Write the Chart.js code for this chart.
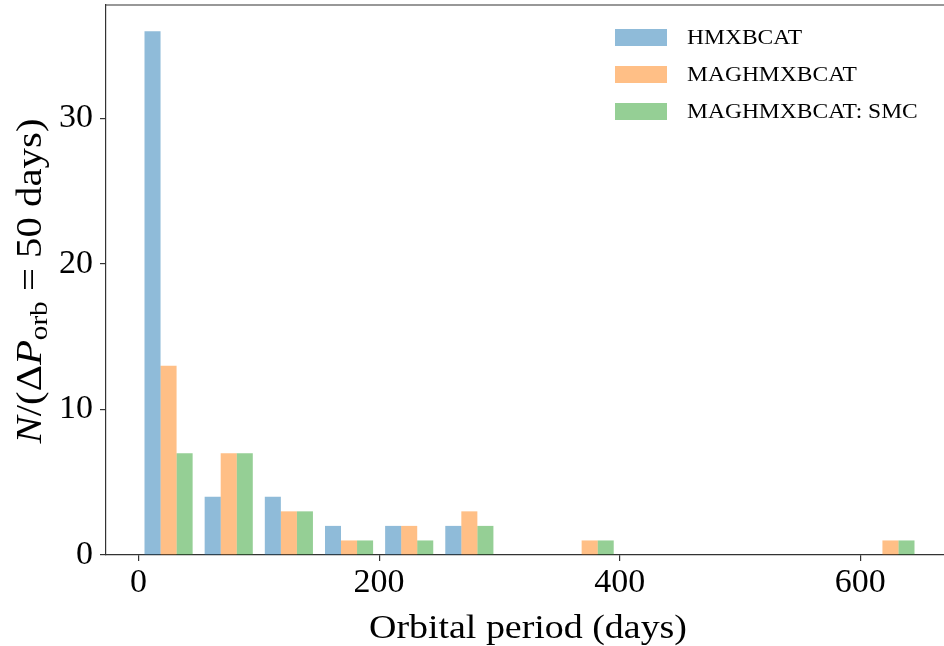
<!DOCTYPE html>
<html>
<head>
<meta charset="utf-8">
<script src="https://cdn.jsdelivr.net/npm/chart.js@4/dist/chart.umd.min.js"></script>
<style>
html, body { margin: 0; padding: 0; background: #fff; overflow: hidden; }
canvas { display: block; }
</style>
</head>
<body>
<canvas id="periodHist" width="962" height="646"></canvas>
<script>
// 50-day bins, centres of each bin
const binCentres = [25, 75, 125, 175, 225, 275, 325, 375, 425, 475, 525, 575, 625];
const hmxbcat = [36, 4, 4, 2, 2, 2, 0, 0, 0, 0, 0, 0, 0];
const maghmxbcat = [13, 7, 3, 1, 2, 3, 0, 1, 0, 0, 0, 0, 1];
const maghmxbcatSmc = [7, 7, 3, 1, 1, 2, 0, 1, 0, 0, 0, 0, 1];
const seriesNames = ['HMXBCAT', 'MAGHMXBCAT', 'MAGHMXBCAT: SMC'];
const xTicks = [0, 200, 400, 600];
const yTicks = [0, 10, 20, 30];

const colours = ['rgba(31, 119, 180, 0.5)', 'rgba(255, 127, 14, 0.5)', 'rgba(44, 160, 44, 0.5)'];
const serif = '"Liberation Serif", "Times New Roman", serif';
const axisColour = '#333';

function toPoints(values) {
    return values.map((v, i) => ({ x: binCentres[i], y: v }));
}

const allSeries = [hmxbcat, maghmxbcat, maghmxbcatSmc];
const datasets = allSeries.map((values, i) => ({
    label: seriesNames[i],
    data: toPoints(values),
    backgroundColor: colours[i],
    borderWidth: 0,
    categoryPercentage: 0.8,
    barPercentage: 1.0
}));

// draws a list of text runs stretched sideways to a given length, centred on 0
function drawRuns(ctx, parts, length) {
    let total = 0;
    parts.forEach(p => { ctx.font = p.font; p.w = ctx.measureText(p.t).width; total += p.w; });
    const k = length / total;
    ctx.scale(k, 1);
    let x = -total / 2;
    parts.forEach(p => {
        ctx.font = p.font;
        ctx.fillText(p.t, x, p.dy || 0);
        x += p.w;
    });
}

// frame on top, axis titles and the legend box
const decorations = {
    id: 'decorations',
    afterDraw(chart) {
        const ctx = chart.ctx;
        const area = chart.chartArea;
        ctx.save();

        // top spine
        ctx.strokeStyle = axisColour;
        ctx.lineWidth = 1.2;
        ctx.beginPath();
        ctx.moveTo(area.left, area.top);
        ctx.lineTo(area.right, area.top);
        ctx.stroke();

        ctx.fillStyle = '#000';
        ctx.textAlign = 'left';
        ctx.textBaseline = 'alphabetic';

        // x title
        ctx.save();
        ctx.translate(528, 638);
        drawRuns(ctx, [{ t: 'Orbital period (days)', font: '33px ' + serif }], 318);
        ctx.restore();

        // y title with italic symbols and subscript
        const size = 35;
        const parts = [
            { t: 'N', font: 'italic ' + size + 'px ' + serif },
            { t: '/(\u0394', font: size + 'px ' + serif },
            { t: 'P', font: 'italic ' + size + 'px ' + serif },
            { t: 'orb', font: Math.round(size * 0.7) + 'px ' + serif, dy: size * 0.17 },
            { t: ' = 50 days)', font: size + 'px ' + serif }
        ];
        ctx.save();
        ctx.translate(41, 281);
        ctx.rotate(-Math.PI / 2);
        drawRuns(ctx, parts, 325);
        ctx.restore();
        ctx.restore();

        // legend, all entries share one sideways stretch
        ctx.save();
        ctx.textBaseline = 'middle';
        ctx.textAlign = 'left';
        ctx.font = '22px ' + serif;
        const k = 115 / ctx.measureText(seriesNames[0]).width;
        seriesNames.forEach((name, i) => {
            const cy = 37.5 + i * 37;
            ctx.fillStyle = colours[i];
            ctx.fillRect(615, cy - 8.5, 52, 17);
            ctx.fillStyle = '#000';
            ctx.save();
            ctx.translate(687, cy + 1);
            ctx.scale(k, 1);
            ctx.fillText(name, 0, 0);
            ctx.restore();
        });
        ctx.restore();
    }
};

const tickFont = { family: serif, size: 34 };

new Chart(document.getElementById('periodHist').getContext('2d'), {
    type: 'bar',
    data: { datasets: datasets },
    options: {
        responsive: false,
        animation: false,
        layout: { padding: { top: 5, right: 9, left: 0, bottom: 0 } },
        plugins: {
            legend: { display: false },
            tooltip: { enabled: false }
        },
        scales: {
            x: {
                type: 'linear',
                min: -27,
                max: 677,
                offset: false,
                afterBuildTicks: s => { s.ticks = xTicks.map(v => ({ value: v })); },
                afterFit: s => { s.height = 91; s.paddingLeft = 0; s.paddingRight = 0; },
                ticks: { font: tickFont, color: '#000', padding: 2, maxRotation: 0 },
                grid: { display: true, offset: false, drawOnChartArea: false, drawTicks: true, tickLength: 6, color: axisColour, lineWidth: 1.2 },
                border: { display: true, color: axisColour, width: 1.2 }
            },
            y: {
                min: 0,
                max: 37.8,
                afterBuildTicks: s => { s.ticks = yTicks.map(v => ({ value: v })); },
                afterFit: s => { s.width = 106; s.paddingTop = 0; s.paddingBottom = 0; },
                ticks: { font: tickFont, color: '#000', padding: 7 },
                grid: { display: true, drawOnChartArea: false, drawTicks: true, tickLength: 6, color: axisColour, lineWidth: 1.2 },
                border: { display: true, color: axisColour, width: 1.2 }
            }
        }
    },
    plugins: [decorations]
});
</script>
</body>
</html>
